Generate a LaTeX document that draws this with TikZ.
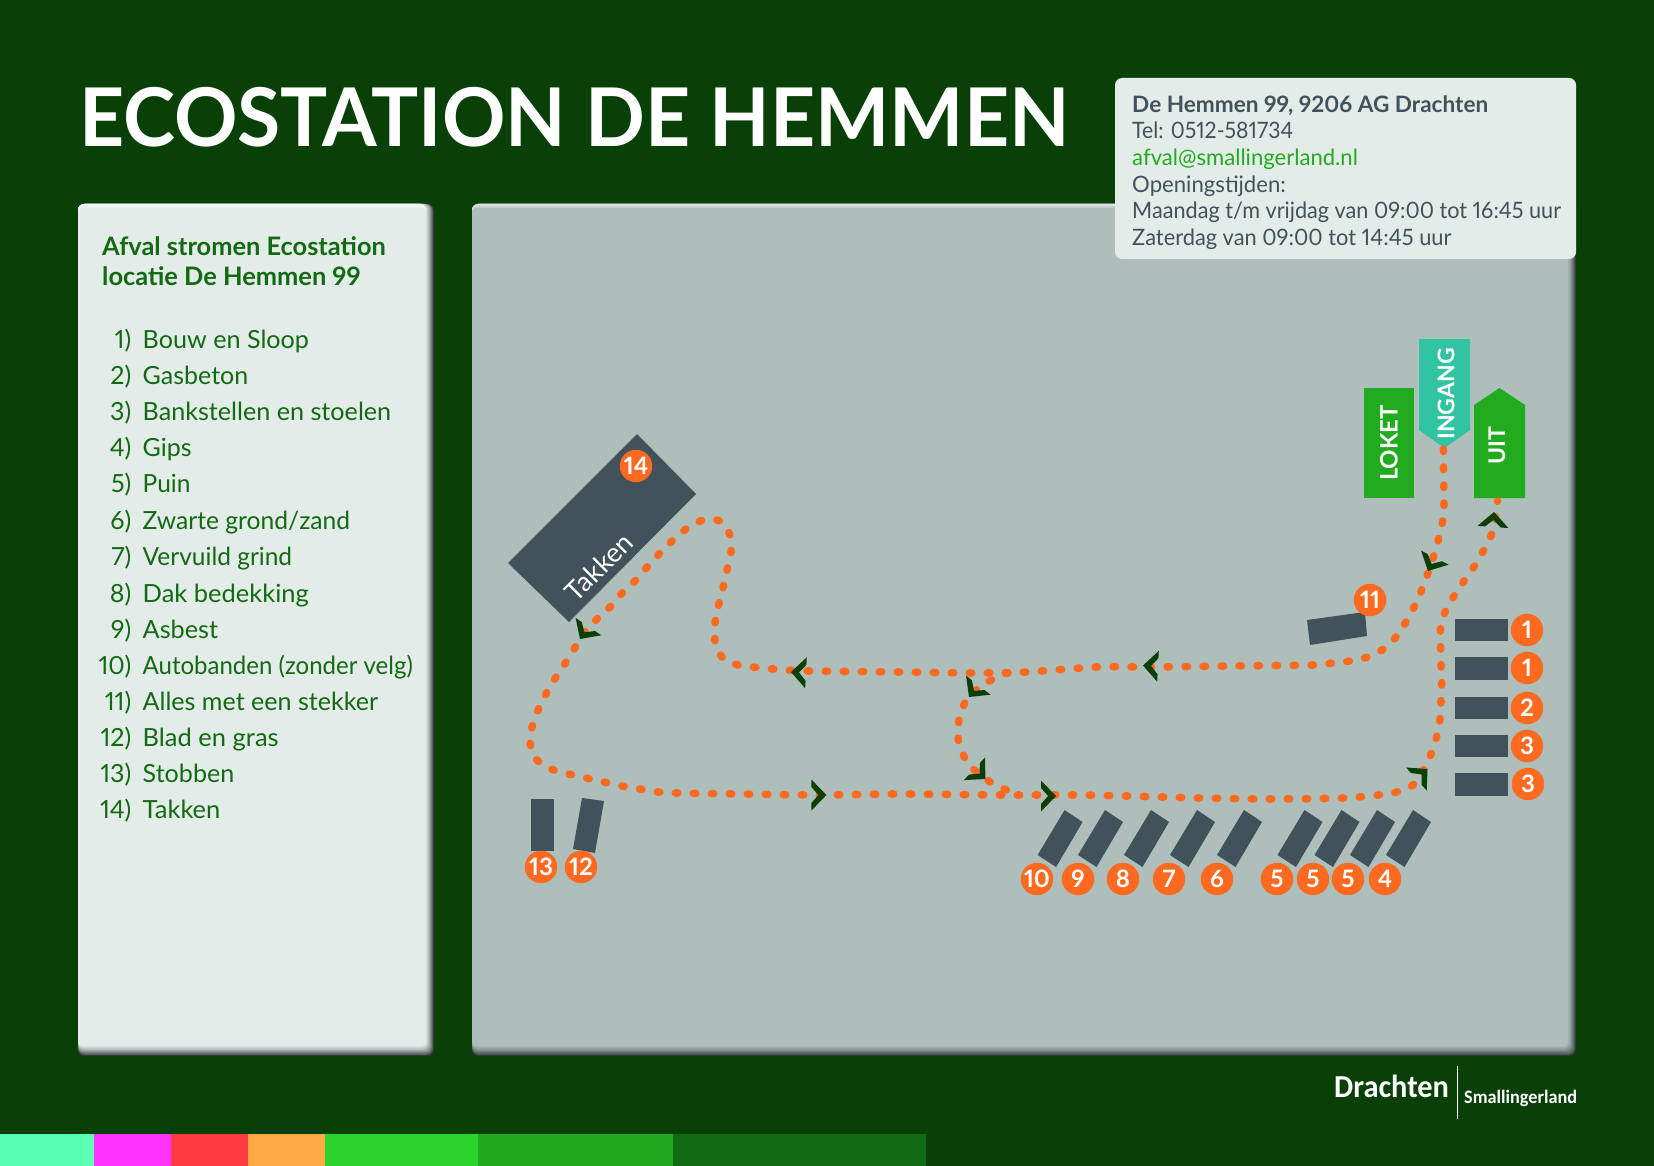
\documentclass[tikz,border=0pt]{standalone}
\usepackage{fontspec}
\setmainfont{Lato}[Numbers=Proportional]
\newfontfamily\logofont{Carlito}[BoldFont={Carlito Bold}]
\definecolor{bgc}{HTML}{084008}
\definecolor{panL}{HTML}{E4ECE9}
\definecolor{panM}{HTML}{AEBFBB}
\definecolor{edge}{HTML}{33393B}
\definecolor{slate}{HTML}{42525A}
\definecolor{txtg}{HTML}{126A12}
\definecolor{mail}{HTML}{22AB1E}
\definecolor{ora}{HTML}{FF6A20}
\definecolor{teal}{HTML}{30C4A0}
\definecolor{chevc}{HTML}{0A3F08}
\definecolor{barA}{HTML}{5AFFB4}
\definecolor{barB}{HTML}{FF33FF}
\definecolor{barC}{HTML}{FF3A40}
\definecolor{barD}{HTML}{FFAA44}
\definecolor{barE}{HTML}{2AD42A}
\definecolor{barF}{HTML}{20AB1C}
\definecolor{barG}{HTML}{126A12}
\newcommand{\fs}[1]{\fontsize{#1}{#1}\selectfont}
\newcommand{\sx}[2]{\scalebox{#1}[1]{#2}}
\newcommand{\panelbox}[5]{% x1 y1 x2 y2 colour
  \fill[edge,rounded corners=7pt] (#1,#2) rectangle (#3,#4);
  \foreach \k/\m in {1/20,2/35,3/50,4/62,5/74,6/84,7/92,8/100}{
    \fill[#5!\m!edge,rounded corners=6pt] (#1,#2) rectangle ({#3-\k},{#4-1.25*\k});
  }
  \fill[white!55!#5,rounded corners=7pt] (#1,#2) rectangle ({#3-8},{#2+10});
  \fill[white!25!#5,rounded corners=5pt] (#1,{#2+2}) rectangle ({#3-8},{#2+12});
  \fill[#5,rounded corners=4pt] (#1,{#2+4}) rectangle ({#3-8},{#4-10});
}
\newcommand{\chev}[3]{\fill[chevc,shift={(#1,#2)},rotate=#3] (0,0) -- (-15,-15.5) -- (-15,-8) -- (-8,0) -- (-15,8) -- (-15,15.5) -- cycle;}
\tikzset{
  lst/.style={anchor=base west,inner sep=0pt,text=txtg,font=\fs{25}},
  lnum/.style={anchor=base east,inner sep=0pt,text=txtg,font=\fs{25}},
  inf/.style={anchor=base west,inner sep=0pt,text=slate,font=\fs{22.6}},
  num/.style={circle,fill=ora,text=white,inner sep=0pt,minimum size=32.5pt,font=\bfseries\fs{24}},
  bld/.style={fill=slate},
  sign/.style={text=white,font=\bfseries\fs{24},inner sep=0pt,rotate=90},
  route/.style={draw=ora,line width=7.6pt,line cap=round,dash pattern=on 2.5pt off 15.5pt},
}
\begin{document}
\begin{tikzpicture}[x=1pt,y=-1pt]
\fill[bgc] (0,0) rectangle (1654,1166);
\useasboundingbox (0,0) rectangle (1654,1166);
% colour bar
\fill[barA] (0,1134) rectangle (94,1166);
\fill[barB] (94,1134) rectangle (171,1166);
\fill[barC] (171,1134) rectangle (248,1166);
\fill[barD] (248,1134) rectangle (325,1166);
\fill[barE] (325,1134) rectangle (478,1166);
\fill[barF] (478,1134) rectangle (673,1166);
\fill[barG] (673,1134) rectangle (926,1166);
% panels
\panelbox{78}{204}{434}{1056}{panL}
\panelbox{472}{204}{1576}{1056}{panM}
\fill[panL,rounded corners=7pt] (1115,78) rectangle (1576,259);
% title
\node[anchor=base west,inner sep=0pt,text=white,font=\bfseries\fs{81}] (title) at (79,146.5) {\sx{.971}{ECOSTATION DE HEMMEN}};
% info
\node[inf,font=\bfseries\fs{22.6}] (i1) at (1132,112.5) {De Hemmen 99, 9206 AG Drachten};
\node[inf] (i2) at (1132,138.5) {\sx{.94}{Tel: 0512-581734}};
\node[inf,text=mail] (i3) at (1132,165.5) {\sx{.977}{afval@smallingerland.nl}};
\node[inf] (i4) at (1132,192.5) {\sx{.98}{Openingstijden:}};
\node[inf] (i5) at (1132,218.5) {\sx{.958}{Maandag t/m vrijdag van 09:00 tot 16:45 uur}};
\node[inf] (i6) at (1132,245.5) {\sx{.965}{Zaterdag van 09:00 tot 14:45 uur}};
% legend
\node[lst,font=\bfseries\fs{25.4}] (h1) at (102,256) {Afval stromen Ecostation};
\node[lst,font=\bfseries\fs{25.4}] (h2) at (102,286) {locatie De Hemmen 99};
\foreach \n/\t/\y/\r in {1/Bouw en Sloop/348/1.006,2/Gasbeton/384/1,3/Bankstellen en stoelen/420/1.006,4/Gips/456/1,5/Puin/492/.98,6/Zwarte grond\slash zand/529/.985,7/Vervuild grind/565/.98,8/Dak bedekking/602/1.02,9/Asbest/638/1.01,10/Autobanden (zonder velg)/674/.96,11/Alles met een stekker/710/1.003,12/Blad en gras/746/1.02,13/Stobben/782/1.004,14/Takken/818/1.02}{
  \node[lnum] (ln\n) at (131.5,\y) {\n)};
  \node[lst] (lt\n) at (142.5,\y) {\sx{\r}{\t}};
}
% signs
\fill[mail] (1364,388) rectangle (1414,498);
\node[sign] (loket) at (1389,443) {LOKET};
\fill[teal] (1419,339) -- (1470,339) -- (1470,430) -- (1444.5,448) -- (1419,430) -- cycle;
\node[sign,font=\bfseries\fs{23}] (ingang) at (1446,394) {INGANG};
\fill[mail] (1474,498) -- (1474,405) -- (1499.5,388) -- (1525,405) -- (1525,498) -- cycle;
\node[sign,font=\bfseries\fs{23}] (uit) at (1497,446) {UIT};
\coordinate (ingtip) at (1443.5,449);
\coordinate (uitbase) at (1497.5,501);
% buildings right
\foreach \a/\b in {619/641,657/680,697/719,735/757,773/796}{\fill[bld] (1455,\a) rectangle (1508,\b);}
\node[num] (r1) at (1527,630) {1};
\node[num] (r2) at (1527,668) {1};
\node[num] (r3) at (1527,708) {2};
\node[num] (r4) at (1527,746) {3};
\node[num] (r5) at (1528,784) {3};
% 11
\fill[bld] (1307,620) -- (1365,612) -- (1367,636) -- (1310,645) -- cycle;
\node[num] (n11) at (1370,600) {11};
% slanted
\foreach \x in {1064.6,1105,1151,1197,1244,1304.5,1341.5,1377,1413}{
  \fill[bld] (\x,810) -- (\x+18,822) -- (\x-8.5,867) -- (\x-27,855) -- cycle;
}
\foreach \x/\l in {1037/10,1078/9,1123/8,1169/7,1217/6,1277/5,1313/5,1348/5,1385/4}{
  \node[num] (b\x) at (\x,879) {\l};
}
% left
\fill[bld] (531,799) rectangle (554,851);
\fill[bld] (582,798) -- (604,801) -- (595,853) -- (573,849) -- cycle;
\node[num] (n13) at (541,867) {13};
\node[num] (n12) at (581,867) {12};
% takken
\fill[bld] (637,434) -- (696,494) -- (569,622) -- (508,563) -- cycle;
\node[num] (n14) at (636,466) {14};
\node[text=white,inner sep=0pt,font=\fs{27},rotate=45] (takken) at (599,567) {Takken};
% route
\draw[route] plot[smooth,tension=.5] coordinates {(ingtip) (1443.5,466) (1444,502) (1443,519) (1439,537) (1434,555) (1428,573) (1422,589) (1415,605) (1406.5,621) (1396,637) (1383.5,649) (1368,657) (1350,661) (1332,663) (1314,665) (1230,666) (1151.6,667) (1097,667) (1026,672) (972,673) (900,672) (810,671) (773.6,669) (738,665) (722,657) (715,641) (715,623) (718.6,605) (723,588) (727,570) (731,553) (730,535) (720,521) (703,520) (686,529) (673,540) (660,553) (648,566) (636,580) (623,592) (611,606) (598,618) (586,630) (576,646) (566,662) (556,677) (547,692) (539,708) (532.5,725) (530,743) (536,759) (551,769) (569,774) (586,778) (604,782) (622,786) (640,789) (658,792) (676,793) (740,794) (817.5,795) (900,794) (1001,795) (1072.5,795) (1127,796) (1199,798) (1270.5,799) (1342.5,798) (1379,795) (1396.6,792) (1413,785) (1424,769) (1431,754) (1436.6,737) (1440,719) (1441,701) (1441.7,683) (1441,665) (1440.5,647) (1440.5,629) (1445,612) (1454,596) (1464,581) (1474.5,566) (1485,548) (1491,536) (1495,520) (uitbase)};
\draw[route] plot[smooth,tension=.5] coordinates {(1008,673) (1001,675) (986,683) (970,695) (962.6,708) (958,726) (959,744) (966,760) (976.5,772) (993.5,784) (1009,791) (1019,796)};
% chevrons
\chev{826.4}{795}{0}
\chev{1056}{796}{0}
\chev{791}{672}{177}
\chev{1143}{665.5}{177}
\chev{580}{639}{236}
\chev{969}{697}{232}
\chev{985.4}{779}{-43}
\chev{1427.5}{769}{42}
\chev{1428}{571}{243}
\chev{1494}{512}{86}
% logo
\node[anchor=base west,inner sep=0pt,text=white,font=\logofont\bfseries\fs{32}] (dr) at (1334,1097) {\sx{.95}{Drachten}};
\node[anchor=base west,inner sep=0pt,text=white,font=\logofont\bfseries\fs{19}] (sm) at (1464,1103) {\sx{.96}{Smallingerland}};
\coordinate (lt) at (1457,1066);
\coordinate (lb) at (1457,1119);
\draw[white,line width=.8pt] (lt) -- (lb);
\end{tikzpicture}
\end{document}
